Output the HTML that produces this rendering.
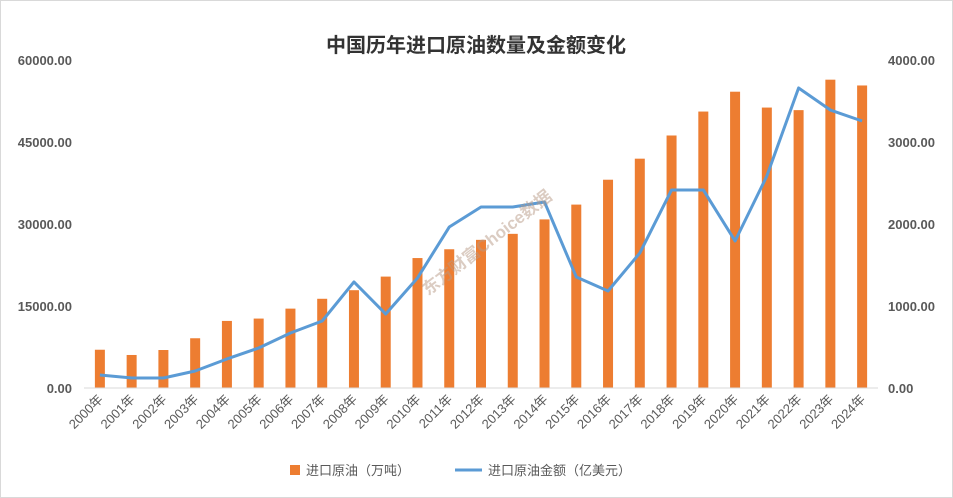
<!DOCTYPE html>
<html><head><meta charset="utf-8"><style>
body{margin:0;background:#fff}
svg{display:block;font-family:"Liberation Sans","Noto Sans CJK SC",sans-serif}
</style></head><body>
<svg id="chart" width="953" height="498">
<rect x="0.5" y="0.5" width="952" height="497" fill="#fff" stroke="#d9d9d9"/>
<text x="476" y="52" text-anchor="middle" font-size="20" font-weight="bold" fill="#333">中国历年进口原油数量及金额变化</text>
<g id="grid"></g><g id="bars"></g><g id="line"></g><g id="axes"></g>
<text x="428" y="296" font-size="17" fill="#b89a86" opacity="0.5" font-weight="bold" transform="rotate(-38 428 296)">东方财富Choice数据</text>
<g>
<rect x="290" y="465" width="10" height="10" fill="#ED7D31"/>
<text x="306" y="475" font-size="13" fill="#595959">进口原油（万吨）</text>
<line x1="455" y1="470" x2="482" y2="470" stroke="#5B9BD5" stroke-width="3"/>
<text x="488" y="475" font-size="13" fill="#595959">进口原油金额（亿美元）</text>
</g>
</svg>
<script>
const years=["2000年","2001年","2002年","2003年","2004年","2005年","2006年","2007年","2008年","2009年","2010年","2011年","2012年","2013年","2014年","2015年","2016年","2017年","2018年","2019年","2020年","2021年","2022年","2023年","2024年"];
const volume=[7000,6040,6950,9100,12270,12700,14520,16320,17890,20380,23770,25380,27100,28200,30840,33550,38100,41950,46190,50570,54200,51300,50830,56400,55340];
const value=[159,122,122,207,354,488,671,817,1293,902,1341,1963,2207,2207,2268,1354,1183,1646,2415,2415,1793,2585,3659,3390,3256];
const leftTicks=[0,15000,30000,45000,60000];
const rightTicks=[0,1000,2000,3000,4000];
const NS="http://www.w3.org/2000/svg";
const x0=84,x1=878,yTop=60,yBot=388;
const step=(x1-x0)/years.length;
const xc=i=>x0+step*(i+0.5);
const yL=v=>yBot-v/60000*(yBot-yTop);
const yR=v=>yBot-v/4000*(yBot-yTop);
function mk(tag,attrs,parent){const e=document.createElementNS(NS,tag);for(const k in attrs)e.setAttribute(k,attrs[k]);document.getElementById(parent).appendChild(e);return e;}
let ax=mk("line",{x1:x0,x2:x1,y1:yBot,y2:yBot,stroke:"#d9d9d9"},"axes");


leftTicks.forEach(t=>{const e=mk("text",{x:72,y:yL(t)+5,"text-anchor":"end","font-size":13,fill:"#595959","font-weight":"bold"},"axes");e.textContent=t.toFixed(2);

});
rightTicks.forEach(t=>{const e=mk("text",{x:888,y:yR(t)+5,"font-size":13,fill:"#595959","font-weight":"bold"},"axes");e.textContent=t.toFixed(2);

});
years.forEach((y,i)=>{
const b=mk("rect",{x:xc(i)-5,y:yL(volume[i]),width:10,height:yBot-yL(volume[i]),fill:"#ED7D31"},"bars");


const t=mk("text",{x:xc(i)+4,y:yBot+12,"text-anchor":"end","font-size":13,fill:"#595959",transform:`rotate(-45 ${xc(i)+4} ${yBot+12})`},"axes");t.textContent=y;


});
const p=mk("polyline",{points:value.map((v,i)=>xc(i)+","+yR(v)).join(" "),fill:"none",stroke:"#5B9BD5","stroke-width":3,"stroke-linejoin":"round"},"line");


</script>
</body></html>
